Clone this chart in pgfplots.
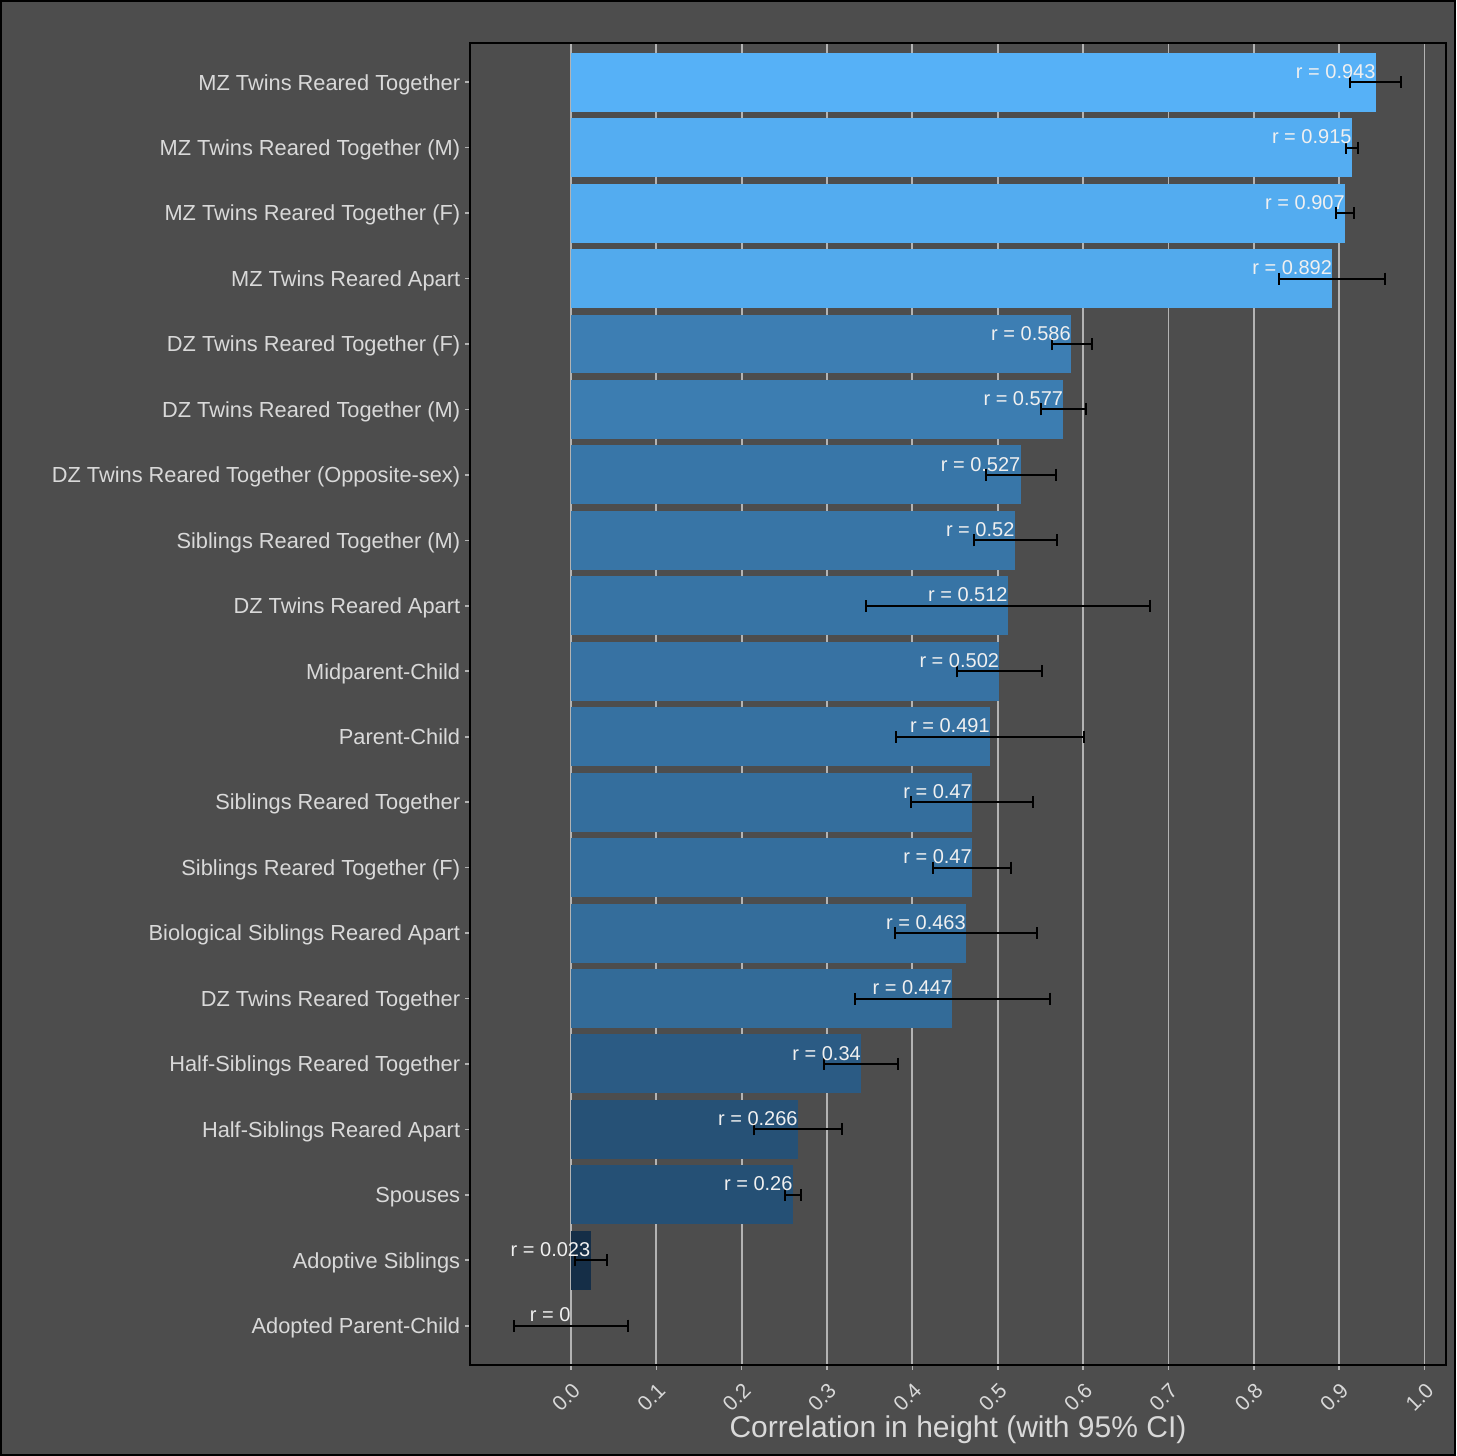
\documentclass[border=0pt]{standalone}
\usepackage{pgfplots}
\pgfplotsset{compat=1.18}
\usepackage{pgfplotstable}
\usepackage{fontspec}
\setmainfont{Liberation Sans}
\definecolor{bgcol}{HTML}{4D4D4D}
\definecolor{gridcol}{HTML}{B3B3B3}
\definecolor{txtcol}{HTML}{D9D9D9}
\definecolor{barlo}{HTML}{132B43}
\definecolor{barhi}{HTML}{56B1F7}

\pgfplotstableread{
pos r lo hi lab
19 0.943 0.913 0.973 0.943
18 0.915 0.908 0.922 0.915
17 0.907 0.896 0.917 0.907
16 0.892 0.830 0.954 0.892
15 0.586 0.563 0.611 0.586
14 0.577 0.551 0.603 0.577
13 0.527 0.486 0.568 0.527
12 0.520 0.472 0.569 0.52
11 0.512 0.346 0.678 0.512
10 0.502 0.452 0.552 0.502
9 0.491 0.381 0.601 0.491
8 0.470 0.398 0.541 0.47
7 0.470 0.424 0.515 0.47
6 0.463 0.380 0.546 0.463
5 0.447 0.333 0.561 0.447
4 0.340 0.297 0.383 0.34
3 0.266 0.214 0.318 0.266
2 0.260 0.251 0.270 0.26
1 0.023 0.005 0.042 0.023
0 0.000 -0.067 0.067 0
}\cidata

\begin{document}
\begin{tikzpicture}
\useasboundingbox (-235pt,-45.5pt) rectangle (493pt,682.5pt);
\fill[bgcol] (-235pt,-45.5pt) rectangle (493pt,682.5pt);
\draw[black, line width=1pt] (-234.5pt,-45pt) rectangle (492.5pt,682pt);
\begin{axis}[
  at={(0,0)}, anchor=south west,
  scale only axis,
  width=488pt, height=661pt,
  xmin=-0.1183, xmax=1.0252,
  ymin=-0.6, ymax=19.6,
  axis background/.style={fill=bgcol},
  axis line style={black, line width=0.75pt},
  xmajorgrids,
  major grid style={gridcol, line width=0.9pt},
  tick align=outside,
  major tick length=2.5pt,
  tick style={gridcol, line width=0.8pt},
  xtick pos=bottom, ytick pos=left,
  xtick={0,0.1,0.2,0.3,0.4,0.5,0.6,0.7,0.8,0.9,1.0},
  xticklabels={0.0,0.1,0.2,0.3,0.4,0.5,0.6,0.7,0.8,0.9,1.0},
  xticklabel style={xshift=-2.5pt, yshift=-13.5pt, rotate=45, anchor=center, text=txtcol, font=\fontsize{10.5}{12}\selectfont},
  ytick={0,...,19},
  yticklabels={Adopted Parent-Child, Adoptive Siblings, Spouses, Half-Siblings Reared Apart, Half-Siblings Reared Together, DZ Twins Reared Together, Biological Siblings Reared Apart, Siblings Reared Together (F), Siblings Reared Together, Parent-Child, Midparent-Child, DZ Twins Reared Apart, Siblings Reared Together (M), DZ Twins Reared Together (Opposite-sex), DZ Twins Reared Together (M), DZ Twins Reared Together (F), MZ Twins Reared Apart, MZ Twins Reared Together (F), MZ Twins Reared Together (M), MZ Twins Reared Together},
  yticklabel style={anchor=base east, xshift=1.1pt, yshift=-3.9pt, text=txtcol, font=\fontsize{10.9}{13}\selectfont},
  xlabel={Correlation in height (with 95\% CI)},
  xlabel style={at={(axis description cs:0.5,0)}, anchor=center, yshift=-32.5pt, text=txtcol, font=\fontsize{15}{18}\selectfont},
]
\addplot[xbar, bar width=0.9, bar shift=0pt, draw=none, fill=barhi!100!barlo] coordinates {(0.943,19)};
\addplot[xbar, bar width=0.9, bar shift=0pt, draw=none, fill=barhi!97!barlo] coordinates {(0.915,18)};
\addplot[xbar, bar width=0.9, bar shift=0pt, draw=none, fill=barhi!96.2!barlo] coordinates {(0.907,17)};
\addplot[xbar, bar width=0.9, bar shift=0pt, draw=none, fill=barhi!94.6!barlo] coordinates {(0.892,16)};
\addplot[xbar, bar width=0.9, bar shift=0pt, draw=none, fill=barhi!62.1!barlo] coordinates {(0.586,15)};
\addplot[xbar, bar width=0.9, bar shift=0pt, draw=none, fill=barhi!61.2!barlo] coordinates {(0.577,14)};
\addplot[xbar, bar width=0.9, bar shift=0pt, draw=none, fill=barhi!55.9!barlo] coordinates {(0.527,13)};
\addplot[xbar, bar width=0.9, bar shift=0pt, draw=none, fill=barhi!55.1!barlo] coordinates {(0.520,12)};
\addplot[xbar, bar width=0.9, bar shift=0pt, draw=none, fill=barhi!54.3!barlo] coordinates {(0.512,11)};
\addplot[xbar, bar width=0.9, bar shift=0pt, draw=none, fill=barhi!53.2!barlo] coordinates {(0.502,10)};
\addplot[xbar, bar width=0.9, bar shift=0pt, draw=none, fill=barhi!52.1!barlo] coordinates {(0.491,9)};
\addplot[xbar, bar width=0.9, bar shift=0pt, draw=none, fill=barhi!49.8!barlo] coordinates {(0.470,8)};
\addplot[xbar, bar width=0.9, bar shift=0pt, draw=none, fill=barhi!49.8!barlo] coordinates {(0.470,7)};
\addplot[xbar, bar width=0.9, bar shift=0pt, draw=none, fill=barhi!49.1!barlo] coordinates {(0.463,6)};
\addplot[xbar, bar width=0.9, bar shift=0pt, draw=none, fill=barhi!47.4!barlo] coordinates {(0.447,5)};
\addplot[xbar, bar width=0.9, bar shift=0pt, draw=none, fill=barhi!36.1!barlo] coordinates {(0.340,4)};
\addplot[xbar, bar width=0.9, bar shift=0pt, draw=none, fill=barhi!28.2!barlo] coordinates {(0.266,3)};
\addplot[xbar, bar width=0.9, bar shift=0pt, draw=none, fill=barhi!27.6!barlo] coordinates {(0.260,2)};
\addplot[xbar, bar width=0.9, bar shift=0pt, draw=none, fill=barhi!2.4!barlo] coordinates {(0.023,1)};
% error bars
\addplot[draw=none, mark=none,
  error bars/.cd, x dir=both, x explicit, error mark=|,
  error bar style={draw=black, line width=1pt},
  error mark options={draw=black, line width=1pt, mark size=3pt}]
  table[x=r, y=pos, x error plus expr=\thisrow{hi}-\thisrow{r}, x error minus expr=\thisrow{r}-\thisrow{lo}] {\cidata};
% labels
\addplot[draw=none, mark=none, point meta=explicit symbolic,
  nodes near coords={r = \pgfplotspointmeta},
  nodes near coords style={anchor=east, inner sep=0pt, yshift=5.4pt, text=white!94!black, font=\fontsize{10}{12}\selectfont}]
  table[x=r, y=pos, meta=lab] {\cidata};
\end{axis}
\end{tikzpicture}
\end{document}
